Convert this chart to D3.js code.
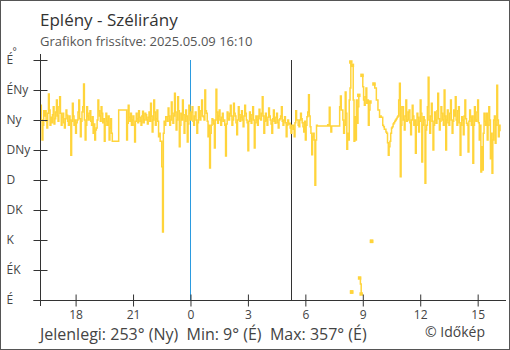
<!DOCTYPE html>
<html>
<head>
<meta charset="utf-8">
<script src="https://cdn.jsdelivr.net/npm/d3@7"></script>
<style>
  html, body { margin: 0; padding: 0; background: #fff; }
  svg { display: block; font-family: "Open Sans", sans-serif; }
</style>
</head>
<body>
<script>
// Wind direction at Eplény, readings every 2.5 minutes (degrees), 2025-05-08 16:10 → 2025-05-09 16:10
const startTime = "2025-05-08T16:10:00";
const stepSeconds = 150;

// 16:10 – 23:57
const dirEvening = [
  292,270, 240,262, 284,276, 284,268, 258,280, 309,285, 262,274, 266,278, 290,264, 272,282,
  300,276, 268,290, 305,280, 262,274, 280,266, 258,272, 285,277, 268,262, 276,270, 217,268,
  295,276, 262,270, 250,266, 270,282, 300,272, 245,268, 282,290, 324,270, 240,262, 290,276,
  270,280, 284,268, 262,275, 250,264, 240,255, 258,270, 300,284, 276,268, 290,280, 266,272,
  238,262, 280,268, 262,276, 240,258, 272,250, 238,238, 238,238, 238,238, 238,238, 285,285,
  285,285, 285,285, 285,285, 285,285, 240,265, 292,274, 268,280, 262,270, 276,262, 237,268,
  280,272, 266,284, 274,268, 262,276, 283,266, 270,280, 278,270, 264,274, 282,268, 295,276,
  252,270, 300,282, 262,272, 285,268, 245,250, 238,238, 200,102, 250,268, 262,275, 275,268,
  288,276, 262,270, 297,280, 265,276, 310,282, 255,270, 305,284, 230,262, 280,270, 300,278,
  250,268, 285,276, 237,264, 292,280
];

// 00:00 – 05:57
const dirNight = [
  270,282, 290,268, 262,276, 282,270, 250,266, 290,274, 270,284, 300,276, 275,270, 315,284,
  280,268, 245,262, 198,250, 262,272, 270,264, 228,270, 316,282, 265,276, 285,270, 262,274,
  280,268, 270,262, 216,264, 282,272, 270,280, 292,276, 262,270, 295,280, 276,266, 248,270,
  290,278, 268,274, 284,270, 260,276, 292,280, 270,266, 224,268, 282,272, 265,278, 290,270,
  228,266, 276,270, 262,276, 286,272, 270,280, 305,276, 250,268, 280,270, 262,274, 288,276,
  270,264, 250,272, 285,268, 265,274, 280,266, 258,270, 272,276, 290,268, 262,270, 275,266,
  245,262, 270,264, 265,258, 250,262, 262,256, 245,266, 284,270, 270,262, 260,270, 280,272,
  266,260, 252,268
];

// 06:00 – 11:57 (null = no reading)
const dirMorning = [
  240,262, 275,282, 308,276, 260,250, 218,245, 250,240, 172,240, 262,261, 261,261, 261,261,
  261,261, 261,261, 261,261, 261,261, 263,261, 289,261, 252,261, 261,261, 261,261, 261,261,
  261,261, 261,290,
  306, 285, 285, 270, 250, 262, 312, 280, 226, 250, 240, 300, 318, 357, 12, 352, 300, 238,
  275, 240, 300, 265, 290, 307, 33, 24, 9, 337, 320, 300, 292, 305, 318, 295, 300, 262,
  285, 297, null, 88, null, null, 324, 318, 318, 300, 300, 285, 285, 274, 276, 274, 274, 262,
  260, 256, 256, 252,
  250,236, 217,230, 238,250, 258,260, 264,266, 268,270, 272,274, 276,300, 325,185, 262,290,
  290,270, 255,276, 300,268, 270,282, 285,266, 248,270, 292,276, 262,270, 220,262, 280,274,
  252,268
];

// 12:00 – 16:10
const dirAfternoon = [
  300,280, 207,262, 275,270, 175,255, 262,290, 334,270, 250,276, 295,268, 225,262, 282,270,
  265,284, 310,272, 255,268, 290,280, 270,262, 315,276, 225,270, 285,266, 262,280, 300,270,
  250,268, 285,276, 305,270, 262,284, 290,266, 217,262, 275,270, 248,276, 300,272, 265,262,
  222,268, 285,274, 262,276, 205,262, 290,270, 268,282, 300,266, 240,262, 192,230, 195,250,
  280,268, 262,280, 240,262, 290,270, 212,250, 190,240, 270,276, 235,262, 322,270, 245,262,
  253
];

// Compass labels for the direction axis (every 45°)
const dirTicks = [0, 45, 90, 135, 180, 225, 270, 315, 360];
const dirLabels = ["É", "ÉK", "K", "DK", "D", "DNy", "Ny", "ÉNy", "É"];

// Hour ticks along the time axis
const hourTicks = ["2025-05-08T18:00", "2025-05-08T21:00", "2025-05-09T00:00", "2025-05-09T03:00",
                   "2025-05-09T06:00", "2025-05-09T09:00", "2025-05-09T12:00", "2025-05-09T15:00"];

// Vertical reference lines: midnight and sunrise
const markerTimes = ["2025-05-09T00:00", "2025-05-09T05:14"];
const markerColors = ["#2b9be0", "#333333"];

const titleText = "Eplény - Szélirány";
const subtitleText = "Grafikon frissítve: 2025.05.09 16:10";
const summaryText = "Jelenlegi: 253° (Ny)\u00a0\u00a0Min: 9° (É)\u00a0\u00a0Max: 357° (É)";
const creditText = "© Időkép";

const W = 510, H = 350;
const parse = d3.isoParse;
const t0 = parse(startTime);
const tEnd = d3.timeMinute.offset(t0, 24 * 60);

const directions = [...dirEvening, ...dirNight, ...dirMorning, ...dirAfternoon];
const data = directions.map((v, i) => ({ t: d3.timeSecond.offset(t0, i * stepSeconds), v }));

const x = d3.scaleTime().domain([t0, tEnd]).range([40.5, 500]);
const y = d3.scaleLinear().domain([0, 360]).range([300, 60]);

const svg = d3.select("body").append("svg").attr("width", W).attr("height", H);

// outer frame
svg.append("rect").attr("x", 0.5).attr("y", 0.5).attr("width", W - 1).attr("height", H - 1)
  .attr("fill", "#fff").attr("stroke", "#555");

svg.append("text").attr("x", 40).attr("y", 26).attr("font-size", 17).attr("fill", "#333").text(titleText);
svg.append("text").attr("x", 40).attr("y", 46).attr("font-size", 13).attr("fill", "#555").text(subtitleText);

// reference markers
svg.append("g").selectAll("line").data(markerTimes).join("line")
  .attr("x1", d => Math.round(x(parse(d))) + 0.5).attr("x2", d => Math.round(x(parse(d))) + 0.5)
  .attr("y1", y(360)).attr("y2", y(0))
  .attr("stroke", (d, i) => markerColors[i]).attr("stroke-width", 1);

// split the series at missing readings and where it wraps across north
const segments = [];
const edgePoints = [];
let cur = [], prev = null;
data.forEach(d => {
  if (d.v == null) {
    if (cur.length) segments.push(cur);
    cur = [];
    return;
  }
  if (prev && Math.abs(d.v - prev.v) > 180) {
    if (cur.length) segments.push(cur);
    cur = [];
    edgePoints.push(prev, d);
  }
  cur.push(d);
  prev = d;
});
if (cur.length) segments.push(cur);

const line = d3.line().x(d => x(d.t)).y(d => y(d.v)).curve(d3.curveStepAfter);
const lineColor = "#ffd43b";

svg.append("g").selectAll("path").data(segments.filter(s => s.length > 1)).join("path")
  .attr("d", line).attr("fill", "none").attr("stroke", lineColor).attr("stroke-width", 1.5);

svg.append("g").selectAll("rect").data(edgePoints).join("rect")
  .attr("x", d => x(d.t) - 1.75).attr("y", d => y(d.v) - 1.75)
  .attr("width", 3.5).attr("height", 3.5).attr("fill", lineColor);

// axes
const axisColor = "#333";
const yAxis = svg.append("g").attr("transform", "translate(40.5,0)")
  .call(d3.axisLeft(y).tickValues(dirTicks).tickFormat((d, i) => dirLabels[i]).tickSize(7).tickSizeOuter(0));
yAxis.select(".domain").attr("d", `M0,${y(360) - 6}V${y(0) + 6}`).attr("stroke", axisColor);
yAxis.selectAll(".tick line").attr("x1", -7).attr("x2", 7).attr("stroke", axisColor);
yAxis.selectAll(".tick text").attr("x", -34).attr("text-anchor", "start")
  .attr("font-size", 12).attr("font-family", "Open Sans, sans-serif").attr("fill", "#444");

svg.append("text").attr("x", 12.5).attr("y", 55).attr("font-size", 10).attr("fill", "#444").text("°");

const xAxis = svg.append("g").attr("transform", `translate(0,${y(0) + 0.5})`)
  .call(d3.axisBottom(x).tickValues(hourTicks.map(parse)).tickFormat(d3.timeFormat("%-H")).tickSize(6).tickSizeOuter(0));
xAxis.select(".domain").attr("d", `M${x(t0) - 7},0H${x(tEnd) + 6}`).attr("stroke", axisColor);
xAxis.selectAll(".tick line").attr("y1", -6).attr("y2", 6).attr("stroke", axisColor);
xAxis.selectAll(".tick text").attr("y", 10).attr("dy", "0.71em")
  .attr("font-size", 12).attr("font-family", "Open Sans, sans-serif").attr("fill", "#444");

svg.append("text").attr("x", 40).attr("y", 340).attr("font-size", 16).attr("fill", "#444").text(summaryText);
svg.append("text").attr("x", 425).attr("y", 337).attr("font-size", 14).attr("fill", "#444").text(creditText);
</script>
</body>
</html>
